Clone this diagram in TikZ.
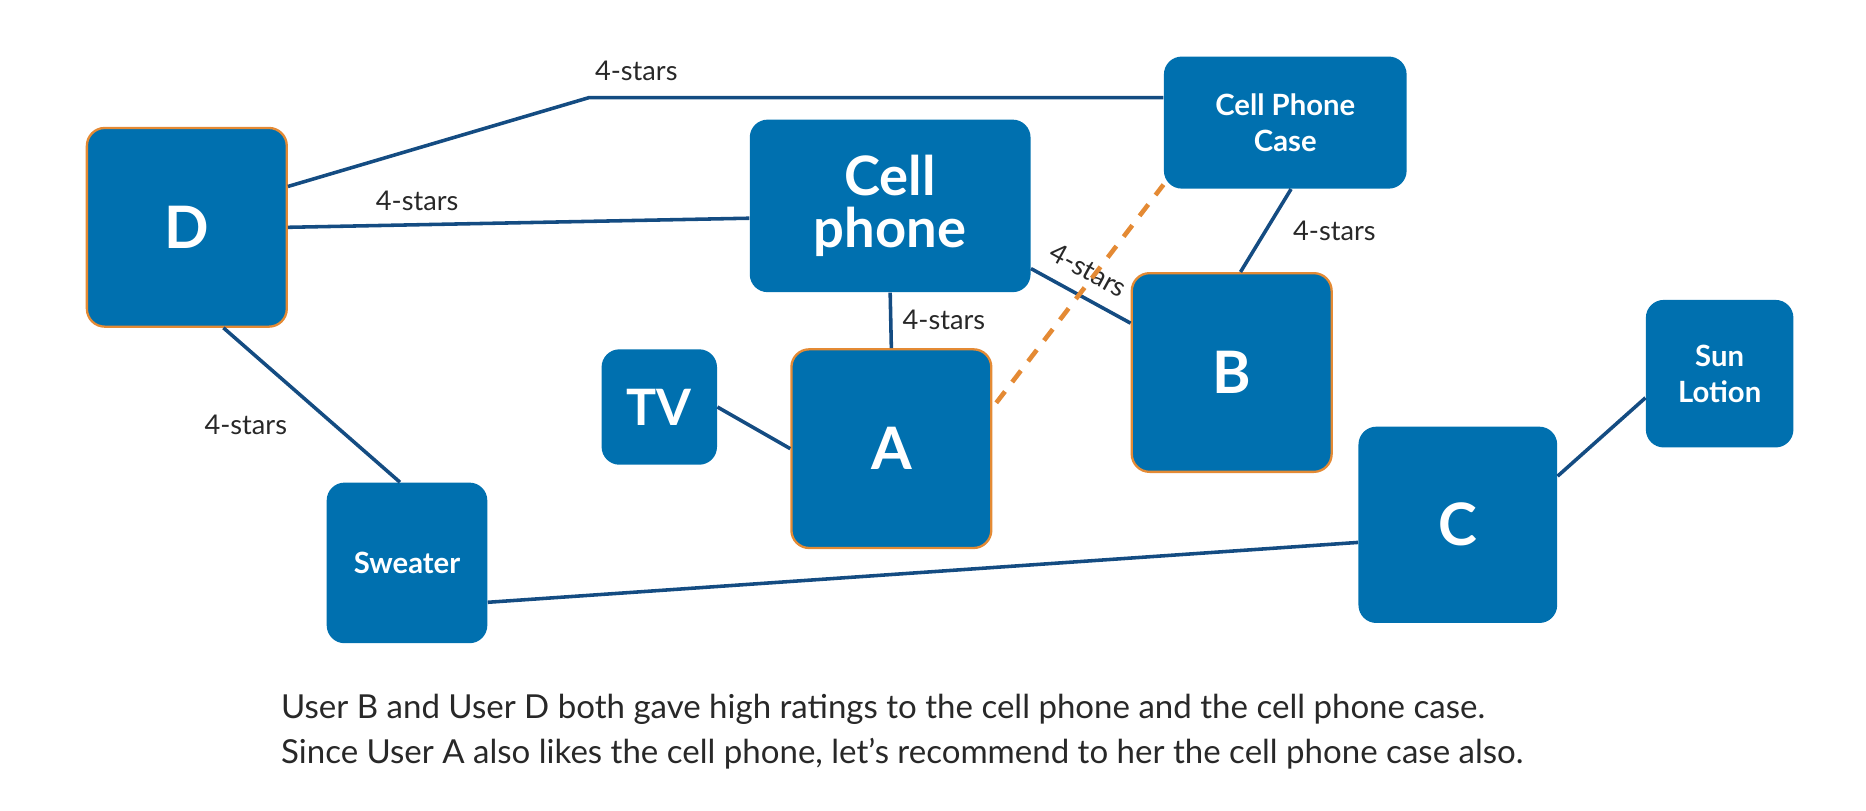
\documentclass[tikz,border=0pt]{standalone}
\usepackage{fontspec}
\setmainfont{Lato}
\definecolor{boxblue}{RGB}{0,112,175}
\definecolor{edgeblue}{RGB}{20,76,130}
\definecolor{userorange}{RGB}{228,138,52}
\definecolor{labelgray}{RGB}{40,40,40}
\begin{document}
\begin{tikzpicture}[x=0.02cm,y=-0.02cm,
  item/.style={fill=boxblue,rounded corners=0.3cm,text=white,align=center,inner sep=0pt},
  user/.style={item,draw=userorange,line width=1.1pt,minimum width=3.36cm,minimum height=3.34cm,font=\bfseries\fontsize{28}{30}\selectfont},
  small/.style={font=\bfseries\fontsize{14}{17}\selectfont},
  link/.style={draw=edgeblue,line width=1.7pt},
  stars/.style={text=labelgray,font=\fontsize{13}{15}\selectfont,inner sep=2pt}]
\useasboundingbox (0,0) rectangle (1568,681);
\node[user] (D) at (157,191) {D};
\node[item,minimum width=4.72cm,minimum height=2.9cm,font=\bfseries\fontsize{26}{25}\selectfont] (cell) at (748,173) {Cell\\phone};
\node[item,small,minimum width=4.08cm,minimum height=2.22cm] (case) at (1080,103) {Cell Phone\\Case};
\node[item,minimum size=1.94cm,font=\bfseries\fontsize{24}{26}\selectfont] (tv) at (554,342) {TV};
\node[user] (A) at (749,377) {A};
\node[user] (B) at (1035,313) {B};
\node[item,small,minimum size=2.48cm] (sun) at (1445,314) {Sun\\Lotion};
\node[item,minimum width=3.34cm,minimum height=3.3cm,font=\bfseries\fontsize{28}{30}\selectfont] (C) at (1225,441) {C};
\node[item,small,minimum size=2.7cm] (sweater) at (342,473) {Sweater};
\coordinate (bend) at (495,82);
\path[link] (D.22) -- (bend) node[stars,anchor=south west,yshift=5pt] {4-stars} -- (case.west |- bend);
\path[link] (D.east) edge node[stars,above=4pt,pos=0.28] {4-stars} (cell.185);
\path[link] (D.-70) edge node[stars,left=0.7cm,pos=0.63] {4-stars} (sweater.95);
\path[link] (cell.south) edge node[stars,right=0.1cm] {4-stars} (A.north);
\path[link] (cell.-24) edge node[stars,sloped,above=5pt,pos=0.45] {4-stars} (B.154);
\path[link] (case.-85) edge node[stars,right=0.36cm] {4-stars} (B.85);
\path[link] (tv.east) edge (A.west);
\path[link] (sweater.-26) edge (C.190);
\path[link] (C.26) edge (sun.198);
\path[draw=userorange,line width=2.2pt,dash pattern=on 0.24cm off 0.2cm,shorten <=3pt,shorten >=0pt] (A.22) -- (case.207);
\node[anchor=west,align=left,text=labelgray,font=\fontsize{15.8}{21.5}\selectfont] (note) at (230,615) {User B and User D both gave high ratings to the cell phone and the cell phone case.\\Since User A also likes the cell phone, let’s recommend to her the cell phone case also.};
\end{tikzpicture}
\end{document}
